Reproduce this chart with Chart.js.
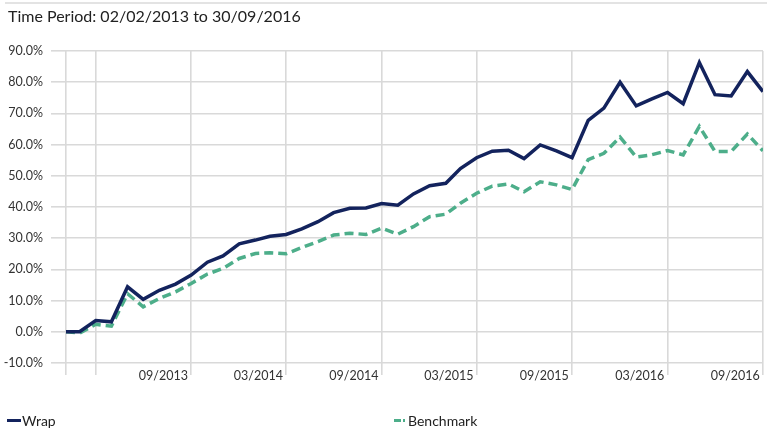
<!DOCTYPE html>
<html>
<head>
<meta charset="utf-8">
<script src="https://cdn.jsdelivr.net/npm/chart.js@4.4.1/dist/chart.umd.min.js"></script>
<style>
  html, body { margin: 0; padding: 0; background: #ffffff; }
  #wrap { position: relative; width: 772px; height: 429px; overflow: hidden; font-family: Lato, "Open Sans", sans-serif; }
  #topline { position: absolute; left: 5px; top: 2px; width: 762px; height: 2px; background: #e3e3e3; }
  #title { position: absolute; left: 8px; top: 6px; font-size: 16px; color: #222; white-space: nowrap; }
  #chart { position: absolute; left: 0; top: 0; }
  .lg { position: absolute; font-size: 14px; color: #222; white-space: nowrap; top: 412px; }
  .sw { position: absolute; height: 3px; top: 419px; }
</style>
</head>
<body>
<div id="wrap">
  <div id="topline"></div>
  <canvas id="chart" width="772" height="429"></canvas>
  <div id="title">Time Period: 02/02/2013 to 30/09/2016</div>
  <div class="sw" style="left:7px;width:14px;background:#13235d;"></div>
  <div class="lg" style="left:22px;">Wrap</div>
  <div class="sw" style="left:394px;width:7px;background:#4dae8a;"></div>
  <div class="sw" style="left:403px;width:2px;background:#4dae8a;"></div>
  <div class="lg" style="left:408px;">Benchmark</div>
</div>
<script>
// Observation dates (start date, then month-ends)
const dates = [
  '2013-02-02','2013-02-28','2013-03-31','2013-04-30','2013-05-31','2013-06-30','2013-07-31','2013-08-31','2013-09-30','2013-10-31','2013-11-30','2013-12-31',
  '2014-01-31','2014-02-28','2014-03-31','2014-04-30','2014-05-31','2014-06-30','2014-07-31','2014-08-31','2014-09-30','2014-10-31','2014-11-30','2014-12-31',
  '2015-01-31','2015-02-28','2015-03-31','2015-04-30','2015-05-31','2015-06-30','2015-07-31','2015-08-31','2015-09-30','2015-10-31','2015-11-30','2015-12-31',
  '2016-01-31','2016-02-29','2016-03-31','2016-04-30','2016-05-31','2016-06-30','2016-07-31','2016-08-31','2016-09-30'
];
// Cumulative return (%)
const wrap = [
  0.0, 0.0, 3.6, 3.2, 14.4, 10.4, 13.3, 15.3, 18.2, 22.3, 24.3, 28.2,
  29.4, 30.6, 31.2, 33.0, 35.3, 38.2, 39.6, 39.7, 41.1, 40.6, 44.2, 46.8,
  47.6, 52.3, 55.8, 57.9, 58.2, 55.5, 59.9, 58.0, 55.8, 67.8, 71.7, 80.0,
  72.4, 74.6, 76.7, 73.1, 86.3, 76.0, 75.6, 83.4, 77.0
];
const benchmark = [
  0.0, -0.4, 2.4, 1.8, 12.2, 8.0, 10.7, 12.8, 15.5, 18.5, 20.3, 23.5,
  25.1, 25.3, 25.0, 27.0, 28.9, 31.0, 31.6, 31.2, 33.2, 31.3, 33.7, 36.9,
  37.7, 41.2, 44.4, 46.7, 47.4, 44.9, 48.1, 47.1, 45.6, 55.2, 57.2, 62.4,
  56.0, 56.7, 58.1, 56.7, 65.8, 57.8, 57.8, 63.4, 58.0
];
// Gridline dates and their labels
const gridDates = ['2013-02-02','2013-03-31','2013-09-30','2014-03-31','2014-09-30','2015-03-31','2015-09-30','2016-03-31','2016-09-30'];
const gridLabels = ['', '', '09/2013', '03/2014', '09/2014', '03/2015', '09/2015', '03/2016', '09/2016'];
const yTicks = [-10, 0, 10, 20, 30, 40, 50, 60, 70, 80, 90];

const DAY = 86400000;
const t0 = Date.parse(dates[0] + 'T00:00:00Z');
const toDay = s => Math.round((Date.parse(s + 'T00:00:00Z') - t0) / DAY);
const xs = dates.map(toDay);
const gridDays = gridDates.map(toDay);

const FONT = 'Lato, "Open Sans", sans-serif';
const GRID = '#d9d9d9';

new Chart(document.getElementById('chart'), {
  type: 'line',
  data: {
    datasets: [
      { label: 'Wrap', data: xs.map((x, i) => ({ x, y: wrap[i] })), borderColor: '#13235d', borderWidth: 3.5, pointRadius: 0, tension: 0, fill: false, order: 1 },
      { label: 'Benchmark', data: xs.map((x, i) => ({ x, y: benchmark[i] })), borderColor: '#4dae8a', borderWidth: 3.5, borderDash: [9, 5], pointRadius: 0, tension: 0, fill: false, order: 2 }
    ]
  },
  options: {
    responsive: false,
    animation: false,
    layout: { padding: { left: 0, right: 9, top: 51, bottom: 0 } },
    plugins: { legend: { display: false }, tooltip: { enabled: false }, title: { display: false } },
    scales: {
      x: {
        type: 'linear',
        min: 0,
        max: gridDays[gridDays.length - 1],
        border: { display: false },
        grid: { color: GRID, lineWidth: 1.6, tickLength: 12, drawTicks: true },
        afterBuildTicks: s => { s.ticks = gridDays.map(v => ({ value: v })); },
        afterFit: s => { s.height = 66; },
        ticks: {
          autoSkip: false, maxRotation: 0, minRotation: 0, align: 'end', padding: -7,
          color: '#333', font: { family: FONT, size: 12.5 },
          callback: v => { const k = gridDays.indexOf(v); return k >= 0 && gridLabels[k] ? gridLabels[k] + ' ' : ''; }
        }
      },
      y: {
        min: -10, max: 90,
        border: { display: false },
        grid: { color: GRID, lineWidth: 1.6, tickLength: 15, drawTicks: true },
        afterBuildTicks: s => { s.ticks = yTicks.map(v => ({ value: v })); },
        afterFit: s => { s.width = 66; },
        ticks: {
          padding: 8, color: '#333', font: { family: FONT, size: 12.5 },
          callback: v => v.toFixed(1) + '%'
        }
      }
    }
  }
});
</script>
</body>
</html>
